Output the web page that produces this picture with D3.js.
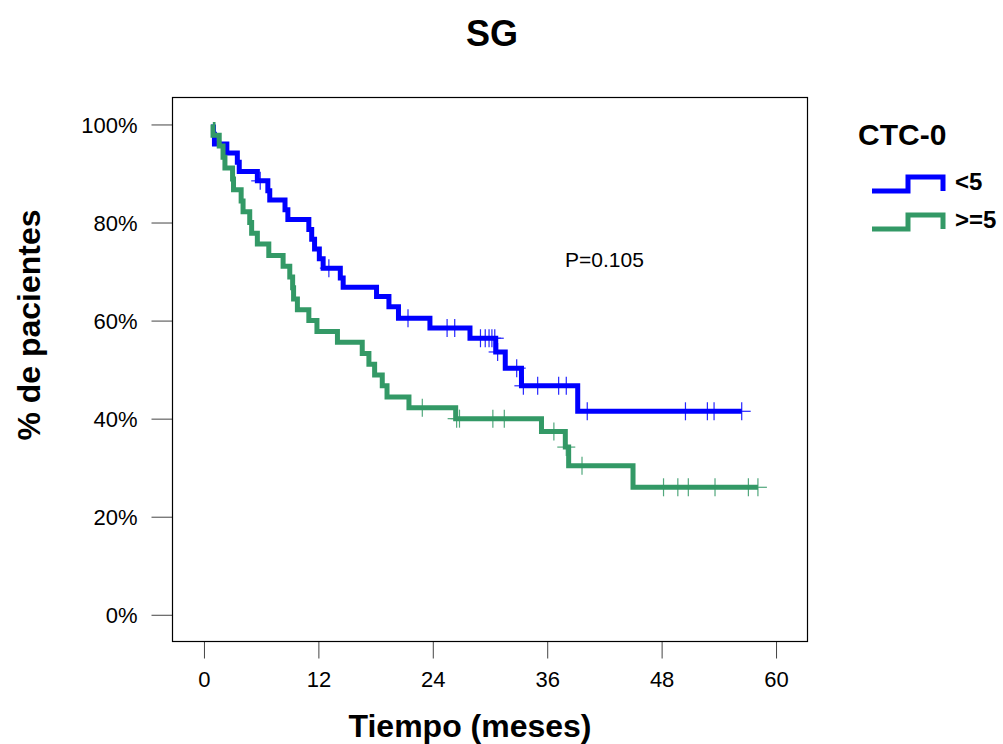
<!DOCTYPE html>
<html><head><meta charset="utf-8">
<script src="https://cdn.jsdelivr.net/npm/d3@7"></script>
<style>
html,body{margin:0;padding:0;background:#fff;}
text{font-family:"Liberation Sans",Arial,Helvetica,sans-serif;}
</style></head>
<body>
<svg id="chart" width="1003" height="744"></svg>
<script>
// ---- data ----
const xTicks = [0, 12, 24, 36, 48, 60];
const yTicks = [0, 0.2, 0.4, 0.6, 0.8, 1.0];
const groups = ["<5", ">=5"];
const colors = ["#0000FF", "#339966"];

const blueStart = 1.0;
const blueTimes = [1.0, 1.1, 2.4, 3.5, 3.7, 5.6, 6.7, 6.9, 8.5, 8.8, 11.0, 11.3, 11.6, 12.1, 12.5, 14.3, 14.6, 18.1, 19.4, 20.4, 23.7, 27.9, 30.6, 31.6, 33.3, 39.2];
const blueSurv  = [0.98, 0.96, 0.942, 0.923, 0.904, 0.885, 0.865, 0.846, 0.826, 0.806, 0.786, 0.766, 0.746, 0.726, 0.707, 0.687, 0.668, 0.649, 0.628, 0.605, 0.585, 0.564, 0.536, 0.503, 0.467, 0.415];
const blueCensor = [5.9, 13.1, 21.4, 25.5, 26.3, 29.0, 29.5, 29.9, 30.2, 30.5, 30.8, 32.8, 33.5, 35.0, 37.2, 38.0, 40.2, 50.5, 52.8, 53.5, 56.4];

const greenStart = 0.93;
const greenTimes = [0.95, 1.6, 2.0, 2.2, 3.0, 3.1, 3.9, 4.1, 4.8, 5.0, 5.6, 6.8, 8.3, 9.0, 9.3, 9.4, 9.8, 11.0, 11.85, 14.0, 16.6, 17.3, 17.9, 18.7, 19.2, 21.5, 26.4, 35.4, 37.9, 38.25, 45.0];
const greenSurv  = [0.978, 0.956, 0.933, 0.911, 0.889, 0.867, 0.844, 0.822, 0.800, 0.778, 0.756, 0.733, 0.711, 0.689, 0.667, 0.644, 0.622, 0.600, 0.578, 0.556, 0.533, 0.511, 0.489, 0.467, 0.444, 0.422, 0.400, 0.374, 0.342, 0.304, 0.260];
const greenCensor = [22.9, 26.5, 26.8, 30.3, 31.5, 36.7, 38.0, 39.65, 48.2, 49.7, 50.8, 53.6, 57.1, 58.1];

const pText = "P=0.105";

// ---- layout ----
const svg = d3.select("#chart");
const L = 172.5, R = 807.5, T = 97.5, B = 641.5;
const x = d3.scaleLinear().domain([-3.3, 63.3]).range([L, R]);
const y = d3.scaleLinear().domain([-0.0545, 1.055]).range([B, T]);

// title
svg.append("text").attr("x", 492).attr("y", 46).attr("text-anchor", "middle")
  .attr("font-size", 36).attr("font-weight", "bold").text("SG");

// axes
const xAxis = svg.append("g").attr("transform", `translate(0,${B})`)
  .call(d3.axisBottom(x).tickValues(xTicks).tickSize(17).tickPadding(10).tickFormat(d3.format("d")));
xAxis.select(".domain").remove();
xAxis.selectAll("line").attr("stroke", "#444");
xAxis.selectAll("text").attr("font-size", 22).attr("fill", "#000")
  .attr("font-family", "Liberation Sans, Arial, sans-serif").attr("dy", null).attr("y", 45);

const yAxis = svg.append("g").attr("transform", `translate(${L},0)`)
  .call(d3.axisLeft(y).tickValues(yTicks).tickSize(21).tickPadding(14).tickFormat(d3.format(".0%")));
yAxis.select(".domain").remove();
yAxis.selectAll("line").attr("stroke", "#444");
yAxis.selectAll("text").attr("font-size", 22).attr("fill", "#000")
  .attr("font-family", "Liberation Sans, Arial, sans-serif").attr("dy", "0.36em");

// box
svg.append("rect").attr("x", L).attr("y", T).attr("width", R - L).attr("height", B - T)
  .attr("fill", "none").attr("stroke", "#000").attr("stroke-width", 1.2);

// axis labels
svg.append("text").attr("x", 470).attr("y", 737).attr("text-anchor", "middle")
  .attr("font-size", 32).attr("font-weight", "bold").text("Tiempo (meses)");
svg.append("text").attr("transform", "translate(40,325) rotate(-90)").attr("text-anchor", "middle")
  .attr("font-size", 32).attr("font-weight", "bold").text("% de pacientes");

// curves
function buildPts(start, times, surv, censor) {
  const pts = [[start, 1]];
  times.forEach((t, i) => pts.push([t, surv[i]]));
  const end = Math.max(d3.max(censor), times[times.length - 1]);
  pts.push([end, surv[surv.length - 1]]);
  return pts;
}
function survAt(t, start, times, surv) {
  let s = 1;
  times.forEach((tt, i) => { if (tt <= t) s = surv[i]; });
  return s;
}
const line = d3.line().x(d => x(d[0])).y(d => y(d[1])).curve(d3.curveStepAfter);

const series = [
  {start: blueStart, times: blueTimes, surv: blueSurv, censor: blueCensor, color: colors[0]},
  {start: greenStart, times: greenTimes, surv: greenSurv, censor: greenCensor, color: colors[1]}
];
series.forEach(s => {
  svg.append("path").attr("d", line(buildPts(s.start, s.times, s.surv, s.censor)))
    .attr("fill", "none").attr("stroke", s.color).attr("stroke-width", 5)
    .attr("stroke-linejoin", "miter").attr("stroke-linecap", "butt");
});
series.forEach(s => {
  const g = svg.append("g").attr("stroke", s.color).attr("stroke-width", 1.2).attr("opacity", 0.85);
  s.censor.forEach(c => {
    const cx = x(c), cy = y(survAt(c, s.start, s.times, s.surv));
    g.append("line").attr("x1", cx - 9).attr("x2", cx + 9).attr("y1", cy).attr("y2", cy);
    g.append("line").attr("x1", cx).attr("x2", cx).attr("y1", cy - 9).attr("y2", cy + 9);
  });
});

// p-value
svg.append("text").attr("x", 565).attr("y", 267).attr("font-size", 21).text(pText);

// legend
svg.append("text").attr("x", 858).attr("y", 145).attr("font-size", 30).attr("font-weight", "bold").text("CTC-0");
const legY = [191, 229];
groups.forEach((g, i) => {
  const yb = legY[i];
  svg.append("path").attr("d", `M872,${yb}H908V${yb - 14}H943V${yb}`)
    .attr("fill", "none").attr("stroke", colors[i]).attr("stroke-width", 5).attr("stroke-linejoin", "miter");
  svg.append("text").attr("x", 955).attr("y", yb - 1).attr("font-size", 24)
    .attr("font-weight", "bold").text(g);
});
</script>
</body></html>
